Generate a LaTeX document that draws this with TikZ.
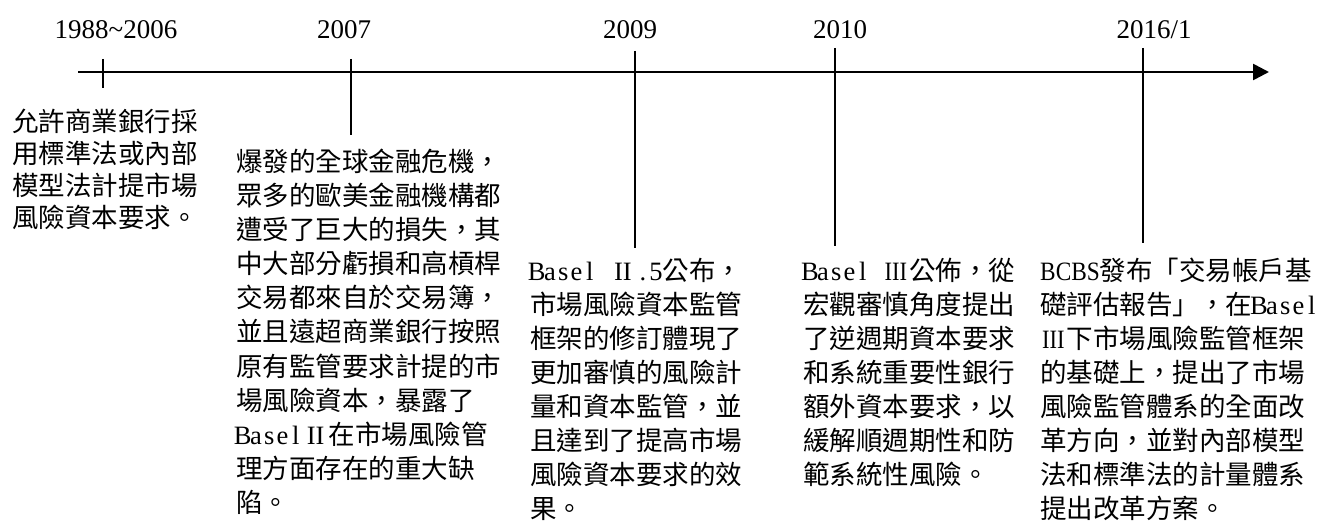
\documentclass[tikz,border=0pt]{standalone}
\usepackage{fontspec}
\usepackage{graphicx}
\setmainfont{Liberation Serif}
\newfontfamily\cjk{Noto Sans CJK TC}
\usetikzlibrary{arrows.meta}
\newcommand\hwb[1]{\makebox[0.5em][c]{\rmfamily #1}}
\newcommand\bsl{\hwb{B}\hwb{a}\hwb{s}\hwb{e}\hwb{l}}
\newcommand\rmII{\makebox[1em][c]{\rmfamily II}}
\newcommand\rmIII{\makebox[1em][c]{\rmfamily\scalebox{0.85}[1]{III}}}
\tikzset{
  axisline/.style={line width=2.6pt,-{Triangle[length=16pt,width=16pt]}},
  tickline/.style={line width=1.7pt},
  yearlabel/.style={anchor=base,inner sep=0pt,font=\fontsize{27}{30}\selectfont},
  desc/.style={anchor=base west,inner sep=0pt,font=\cjk\fontsize{26.5}{34}\selectfont},
  descA/.style={anchor=base west,inner sep=0pt,font=\cjk\fontsize{26.5}{31}\selectfont}
}
\begin{document}
\begin{tikzpicture}[x=1pt,y=-1pt]
\useasboundingbox (0,0) rectangle (1321,529);
% axis
\coordinate (axS) at (78,72);
\coordinate (axE) at (1269,72);
\draw[axisline] (axS) -- (axE);
% ticks
\coordinate (t1a) at (103,59);  \coordinate (t1b) at (103,88);
\coordinate (t2a) at (351,59);  \coordinate (t2b) at (351,135);
\coordinate (t3a) at (635,51);  \coordinate (t3b) at (635,248);
\coordinate (t4a) at (835,48);  \coordinate (t4b) at (835,246);
\coordinate (t5a) at (1143,48); \coordinate (t5b) at (1143,243);
\draw[tickline] (t1a) -- (t1b);
\draw[tickline] (t2a) -- (t2b);
\draw[tickline] (t3a) -- (t3b);
\draw[tickline] (t4a) -- (t4b);
\draw[tickline] (t5a) -- (t5b);
% year labels
\node[yearlabel] (y1) at (116,39) {1988\textasciitilde2006};
\node[yearlabel] (y2) at (344,39) {2007};
\node[yearlabel] (y3) at (630,39) {2009};
\node[yearlabel] (y4) at (840,39) {2010};
\node[yearlabel] (y5) at (1154,39) {2016/1};
% descriptions
\node[descA] (d1) at (12,132) {\begin{tabular}[t]{@{}l@{}}
允許商業銀行採\\
用標準法或內部\\
模型法計提市場\\
風險資本要求。
\end{tabular}};
\node[desc] (d2) at (236,172) {\begin{tabular}[t]{@{}l@{}}
爆發的全球金融危機，\\
眾多的歐美金融機構都\\
遭受了巨大的損失，其\\
中大部分虧損和高槓桿\\
交易都來自於交易簿，\\
並且遠超商業銀行按照\\
原有監管要求計提的市\\
場風險資本，暴露了\\
\bsl\rmII 在市場風險管\\
理方面存在的重大缺\\
陷。
\end{tabular}};
\node[desc] (d3) at (530,280) {\begin{tabular}[t]{@{}l@{}}
\bsl\hwb{}\rmII\hwb{.}\hwb{5}公布，\\
市場風險資本監管\\
框架的修訂體現了\\
更加審慎的風險計\\
量和資本監管，並\\
且達到了提高市場\\
風險資本要求的效\\
果。
\end{tabular}};
\node[desc] (d4) at (803,280) {\begin{tabular}[t]{@{}l@{}}
\bsl\hwb{}\rmIII 公佈，從\\
宏觀審慎角度提出\\
了逆週期資本要求\\
和系統重要性銀行\\
額外資本要求，以\\
緩解順週期性和防\\
範系統性風險。
\end{tabular}};
\node[desc] (d5) at (1040,280) {\begin{tabular}[t]{@{}l@{}}
{\rmfamily\scalebox{0.88}[1]{BCBS}}發布「交易帳戶基\\
礎評估報告」，在\bsl\\
\rmIII 下市場風險監管框架\\
的基礎上，提出了市場\\
風險監管體系的全面改\\
革方向，並對內部模型\\
法和標準法的計量體系\\
提出改革方案。
\end{tabular}};
\end{tikzpicture}
\end{document}
